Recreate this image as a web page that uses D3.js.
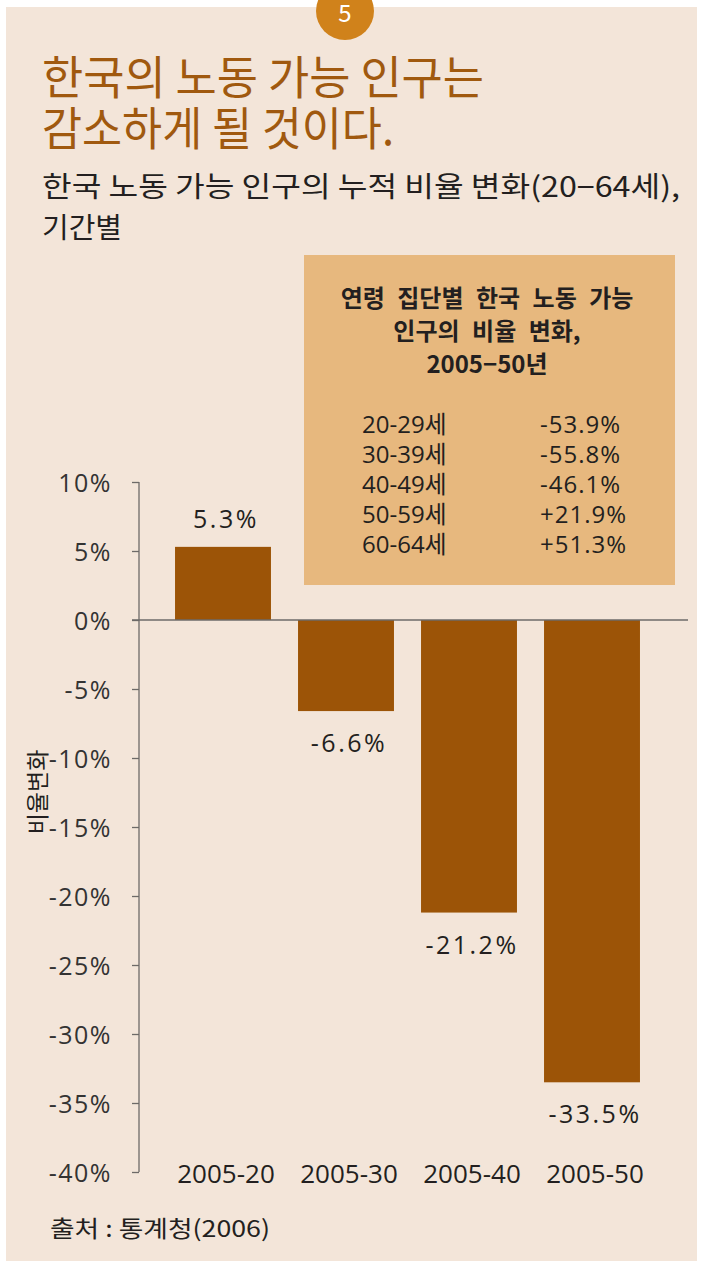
<!DOCTYPE html>
<html>
<head>
<meta charset="utf-8">
<script src="https://cdn.jsdelivr.net/npm/d3@7"></script>
<style>
  body { margin: 0; background: #fff; }
  svg { display: block; }
  text { font-family: "Noto Sans CJK KR", "Noto Sans", sans-serif; }
  .num { font-family: "Open Sans", "Noto Sans", "Noto Sans CJK KR", sans-serif; }
</style>
</head>
<body>
<div id="chart"></div>
<script>
// data
const periods = ['2005-20', '2005-30', '2005-40', '2005-50'];
const changes = [5.3, -6.6, -21.2, -33.5];
const yTicks = [10, 5, 0, -5, -10, -15, -20, -25, -30, -35, -40];
const ageGroups = ['20-29세', '30-39세', '40-49세', '50-59세', '60-64세'];
const ageChanges = ['-53.9%', '-55.8%', '-46.1%', '+21.9%', '+51.3%'];
const titleLines = ['한국의 노동 가능 인구는', '감소하게 될 것이다.'];
const subtitleLines = ['한국 노동 가능 인구의 누적 비율 변화(20−64세),', '기간별'];
const boxTitle = ['연령 집단별 한국 노동 가능', '인구의 비율 변화,', '2005−50년'];

const width = 703, height = 1261;
const svg = d3.select('#chart').append('svg')
  .attr('width', width).attr('height', height);

// panel
svg.append('rect').attr('x', 6).attr('y', 7).attr('width', 691).attr('height', 1254)
  .attr('fill', '#f3e5d9');

// badge
svg.append('circle').attr('cx', 345).attr('cy', 11).attr('r', 29).attr('fill', '#d0821b');
svg.append('text').attr('x', 345).attr('y', 22).attr('text-anchor', 'middle')
  .attr('font-size', 24).attr('fill', '#fff').text('5');

// title
svg.append('g').selectAll('text').data(titleLines).enter().append('text')
  .attr('x', 42).attr('y', (d, i) => 94 + i * 51)
  .attr('font-size', 46).attr('fill', '#a0590f')
  .attr('textLength', (d, i) => i === 0 ? 442 : 352)
  .attr('lengthAdjust', 'spacingAndGlyphs')
  .text(d => d);

svg.append('g').selectAll('text').data(subtitleLines).enter().append('text')
  .attr('x', 42).attr('y', (d, i) => 197 + i * 41)
  .attr('font-size', 28).attr('fill', '#231f20')
  .attr('textLength', (d, i) => i === 0 ? 638 : 80)
  .attr('lengthAdjust', 'spacingAndGlyphs')
  .text(d => d);

// scales
const y = d3.scaleLinear().domain([-40, 10]).range([1172, 482]);
const x = d3.scaleBand().domain(periods).range([161.5, 653.5])
  .paddingInner(0.22).paddingOuter(0.11);

// inset box
const box = svg.append('g');
box.append('rect').attr('x', 304).attr('y', 255).attr('width', 371).attr('height', 330)
  .attr('fill', '#e7b87e');
box.selectAll('.bt').data(boxTitle).enter().append('text')
  .attr('class', 'bt')
  .attr('x', 487).attr('y', (d, i) => 307 + i * 33)
  .attr('text-anchor', 'middle').attr('font-size', 24).attr('font-weight', 'bold')
  .attr('word-spacing', 7)
  .attr('fill', '#231f20').text(d => d);
box.selectAll('.ag').data(ageGroups).enter().append('text')
  .attr('class', 'ag num')
  .attr('x', 362).attr('y', (d, i) => 433 + i * 30)
  .attr('font-size', 24).attr('fill', '#231f20').text(d => d);
box.selectAll('.ac').data(ageChanges).enter().append('text')
  .attr('class', 'ac num')
  .attr('x', 540).attr('y', (d, i) => 433 + i * 30)
  .attr('font-size', 24).attr('letter-spacing', 1).attr('fill', '#231f20').text(d => d);

// y axis
const yAxis = svg.append('g').attr('transform', 'translate(139,0)')
  .call(d3.axisLeft(y).tickValues(yTicks).tickSize(7).tickPadding(20)
    .tickFormat(d => d + '%'));
yAxis.select('.domain').attr('stroke', '#6d6a68').attr('stroke-width', 1.3)
  .attr('d', 'M0,' + y(10) + 'V' + y(-40));
yAxis.selectAll('.tick line').attr('stroke', '#6d6a68').attr('stroke-width', 1.3);
yAxis.selectAll('.tick text').attr('class', 'num').attr('font-size', 25)
  .attr('letter-spacing', 1.5).attr('fill', '#333').attr('dy', '0.36em');

// bars
svg.append('g').selectAll('rect').data(changes).enter().append('rect')
  .attr('x', (d, i) => x(periods[i]))
  .attr('y', d => y(Math.max(0, d)))
  .attr('width', x.bandwidth())
  .attr('height', d => Math.abs(y(d) - y(0)))
  .attr('fill', '#9c5407');

// zero line
svg.append('line').attr('x1', 132).attr('x2', 688)
  .attr('y1', y(0)).attr('y2', y(0))
  .attr('stroke', '#6d6a68').attr('stroke-width', 1.3);

// value labels
svg.append('g').selectAll('text').data(changes).enter().append('text')
  .attr('class', 'num')
  .attr('x', (d, i) => x(periods[i]) + x.bandwidth() / 2 + 3)
  .attr('y', d => d >= 0 ? y(d) - 19 : y(d) + 41)
  .attr('text-anchor', 'middle').attr('font-size', 25).attr('letter-spacing', 2.5)
  .attr('fill', '#231f20')
  .text(d => d.toFixed(1) + '%');

// category labels
svg.append('g').selectAll('text').data(periods).enter().append('text')
  .attr('class', 'num')
  .attr('x', d => x(d) + x.bandwidth() / 2 + 3)
  .attr('y', 1183)
  .attr('text-anchor', 'middle').attr('font-size', 26).attr('fill', '#231f20')
  .text(d => d);

// axis title
svg.append('text').attr('transform', 'translate(46,792) rotate(-90)')
  .attr('text-anchor', 'middle').attr('font-size', 23).attr('fill', '#231f20')
  .text('비율변화');

// source
svg.append('text').attr('x', 50).attr('y', 1237)
  .attr('font-size', 23).attr('fill', '#231f20')
  .attr('textLength', 220).attr('lengthAdjust', 'spacingAndGlyphs')
  .text('출처 : 통계청(2006)');
</script>
</body>
</html>
